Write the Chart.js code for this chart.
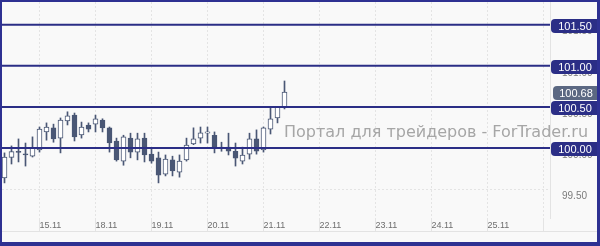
<!DOCTYPE html>
<html>
<head>
<meta charset="utf-8">
<script src="https://cdn.jsdelivr.net/npm/chart.js@4.4.0/dist/chart.umd.min.js"></script>
<style>
  html, body { margin: 0; padding: 0; background: #fff; }
  #frame { box-sizing: border-box; width: 600px; height: 246px; border: solid #2e3192; border-width: 2px 3px 4px 2px; background: #f9f9f9; }
  #wrap { position: relative; width: 595px; height: 229px; border-bottom: 1px solid #e3e3e3; }
</style>
</head>
<body>
<div id="frame"><div id="wrap"><canvas id="chart"></canvas></div></div>
<script>
// свечи (H3), индекс = номер бара
const opens  = [99.635, 99.885, 99.96, 99.93, 99.90, 99.975, 100.195, 100.245, 100.12, 100.33,
                100.40, 100.16, 100.28, 100.29, 100.34, 100.245, 100.085, 99.84, 100.12, 99.95,
                100.12, 99.925, 99.88, 99.68, 99.855, 99.705, 99.855, 100.05, 100.12, 100.18,
                100.155, 100.01, 100.01, 99.96, 99.84, 99.925, 100.11, 99.975, 100.23, 100.365, 100.49];
const highs  = [99.94, 100.025, 100.11, 100.06, 100.135, 100.255, 100.305, 100.29, 100.365, 100.44,
                100.425, 100.315, 100.305, 100.40, 100.355, 100.255, 100.12, 100.155, 100.18, 100.18,
                100.18, 100.00, 99.95, 99.915, 99.90, 99.915, 100.12, 100.245, 100.255, 100.255,
                100.195, 100.07, 100.18, 100.06, 100.01, 100.18, 100.22, 100.255, 100.49, 100.50, 100.815];
const lows   = [99.575, 99.805, 99.83, 99.78, 99.89, 99.95, 100.095, 100.07, 99.94, 100.28,
                100.085, 100.12, 100.195, 100.195, 100.195, 99.95, 99.84, 99.79, 99.88, 99.855,
                99.83, 99.815, 99.575, 99.66, 99.66, 99.645, 99.84, 100.04, 100.06, 100.06,
                99.94, 99.96, 99.915, 99.78, 99.805, 99.865, 99.925, 99.95, 100.17, 100.305, 100.475];
const closes = [99.89, 99.955, 99.945, 99.915, 100.00, 100.23, 100.255, 100.11, 100.34, 100.39,
                100.135, 100.255, 100.23, 100.355, 100.245, 100.06, 99.855, 100.135, 99.95, 100.11,
                99.915, 99.84, 99.67, 99.865, 99.72, 99.84, 100.035, 100.11, 100.185, 100.195,
                100.01, 100.00, 99.96, 99.875, 99.915, 100.11, 99.96, 100.245, 100.355, 100.50, 100.68];

// начало дня (номер бара) и подписи
const dayTicks  = [5, 13, 21, 29, 37, 45, 53, 61, 69, 77];
const dayLabels = ['15.11', '18.11', '19.11', '20.11', '21.11', '22.11', '23.11', '24.11', '25.11', ''];

const priceTicks = [99.50, 100.00, 100.50, 101.00, 101.50];
const levels = [100.00, 100.50, 101.00, 101.50];

// 7 px на бар, центры свечей на полупикселе
const X_MIN = -2.5 / 7, X_MAX = X_MIN + 548 / 7;
const Y_MIN = 99.148, Y_MAX = 101.776;

const NAVY = '#2b2e86';
const CANDLE = '#4a5775';
const watermark = 'Портал для трейдеров - ForTrader.ru';

function drawBadge(ctx, x1, x2, cy, text, color) {
	const h = 14, r = 4;
	const top = Math.round(cy - h / 2);
	ctx.beginPath();
	ctx.moveTo(x2, top);
	ctx.lineTo(x1 + r, top);
	ctx.quadraticCurveTo(x1, top, x1, top + r);
	ctx.lineTo(x1, top + h - r);
	ctx.quadraticCurveTo(x1, top + h, x1 + r, top + h);
	ctx.lineTo(x2, top + h);
	ctx.closePath();
	ctx.fillStyle = color;
	ctx.fill();
	ctx.fillStyle = '#ffffff';
	ctx.font = '11px "Liberation Sans"';
	ctx.textAlign = 'center';
	ctx.textBaseline = 'middle';
	ctx.fillText(text, (x1 + x2) / 2 + 1, top + h / 2 + 0.5);
}

const overlayPlugin = {
	id: 'overlay',
	beforeDatasetsDraw(chart) {
		const ctx = chart.ctx;
		ctx.save();
		ctx.font = '16px "DejaVu Sans"';
		ctx.fillStyle = '#a6a6a6';
		ctx.textAlign = 'left';
		ctx.textBaseline = 'middle';
		ctx.fillText(watermark, 282, 131);
		ctx.restore();
	},
	afterDraw(chart) {
		const ctx = chart.ctx;
		const yScale = chart.scales.y;
		const x1 = yScale.left + 1;
		const x2 = chart.width;
		ctx.save();
		levels.forEach(v => {
			drawBadge(ctx, x1, x2, yScale.getPixelForValue(v) + 1, v.toFixed(2), NAVY);
		});
		// текущая цена
		const last = closes[closes.length - 1];
		drawBadge(ctx, x1 + 2, x2, yScale.getPixelForValue(last) + 1, last.toFixed(2), '#5b6882');
		ctx.restore();
	}
};

const idx = opens.map((v, i) => i);
const bodyData = idx.map(i => ({ x: i, y: [opens[i], closes[i]] }));
const wickData = idx.map(i => ({ x: i, y: [lows[i], highs[i]] }));
const isUp = idx.map(i => closes[i] >= opens[i]);

const levelSets = levels.map(v => ({
	type: 'line',
	data: [{ x: X_MIN, y: v }, { x: X_MAX, y: v }],
	borderColor: NAVY,
	borderWidth: 2,
	pointRadius: 0,
	order: 0
}));

new Chart(document.querySelector('#chart'), {
	type: 'bar',
	data: {
		datasets: [
			...levelSets,
			{
				data: bodyData,
				order: 1,
				grouped: false,
				barThickness: 5,
				minBarLength: 1,
				backgroundColor: isUp.map(u => u ? '#ffffff' : CANDLE),
				borderColor: CANDLE,
				borderWidth: 1,
				borderSkipped: false
			},
			{
				data: wickData,
				order: 2,
				grouped: false,
				barThickness: 1,
				backgroundColor: CANDLE,
				borderWidth: 0
			}
		]
	},
	options: {
		responsive: true,
		maintainAspectRatio: false,
		animation: false,
		events: [],
		layout: { padding: 0 },
		plugins: {
			legend: { display: false },
			tooltip: { enabled: false }
		},
		scales: {
			x: {
				type: 'linear',
				min: X_MIN,
				max: X_MAX,
				offset: false,
				afterBuildTicks: axis => { axis.ticks = dayTicks.map(v => ({ value: v })); },
				afterFit: axis => { axis.height = 13; axis.paddingLeft = 0; axis.paddingRight = 0; },
				grid: { offset: false, color: '#e4e4e4', tickColor: '#e4e4e4', tickLength: 13 },
				border: { display: false, dash: [2, 2] },
				ticks: {
					align: 'start',
					padding: -11,
					maxRotation: 0,
					autoSkip: false,
					color: '#6e6e6e',
					font: { family: 'Liberation Sans', size: 9 },
					callback: (value, index) => dayLabels[index]
				}
			},
			y: {
				position: 'right',
				min: Y_MIN,
				max: Y_MAX,
				afterBuildTicks: axis => { axis.ticks = priceTicks.map(v => ({ value: v })); },
				afterFit: axis => { axis.width = 47; axis.paddingTop = 0; axis.paddingBottom = 0; },
				grid: { color: '#e4e4e4', drawTicks: false },
				border: { display: true, color: '#e3e3e3', dash: [2, 2] },
				ticks: {
					crossAlign: 'near',
					padding: 12,
					labelOffset: 7,
					color: '#7a7a7a',
					font: { family: 'Liberation Sans', size: 10 },
					callback: v => v.toFixed(2)
				}
			}
		}
	},
	plugins: [overlayPlugin]
});
</script>
</body>
</html>
